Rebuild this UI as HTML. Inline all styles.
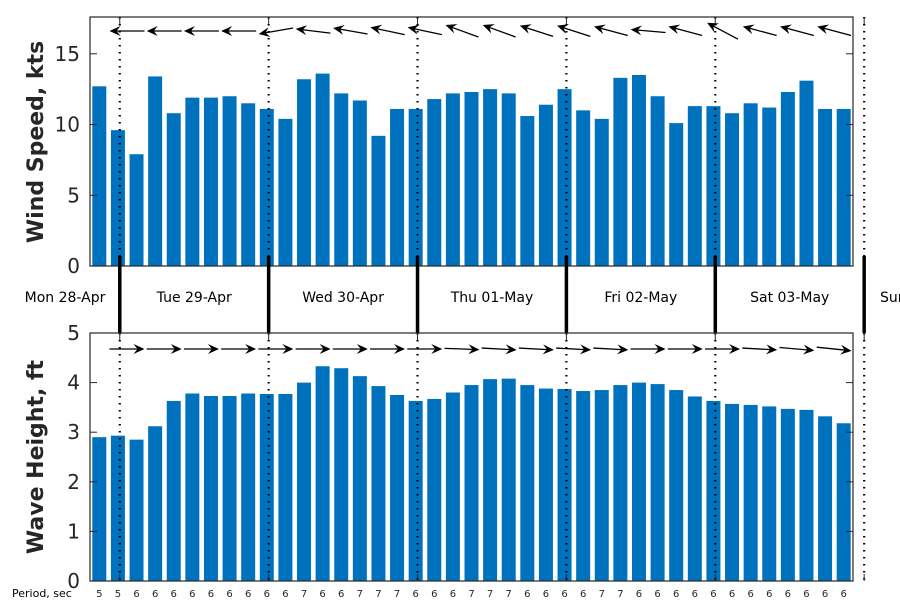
<!DOCTYPE html>
<html><head><meta charset="utf-8"><style>
body{margin:0;background:#fff}
svg{display:block;font-family:"DejaVu Sans","Liberation Sans",sans-serif}
</style></head><body>
<svg id="chart" width="900" height="600" viewBox="0 0 900 600" xmlns="http://www.w3.org/2000/svg">
<g id="topPanel"></g>
<g id="midPanel"></g>
<g id="botPanel"></g>
<text transform="translate(43,142) rotate(-90)" text-anchor="middle" font-size="22" font-weight="bold" fill="#262626">Wind Speed, kts</text>
<text transform="translate(43,457) rotate(-90)" text-anchor="middle" font-size="22" font-weight="bold" fill="#262626">Wave Height, ft</text>
<text x="12" y="597" font-size="11" fill="#000">Period, sec</text>
</svg>
<script>
const windSpeed=[12.7,9.6,7.9,13.4,10.8,11.9,11.9,12.0,11.5,11.1,10.4,13.2,13.6,12.2,11.7,9.2,11.1,11.1,11.8,12.2,12.3,12.5,12.2,10.6,11.4,12.5,11.0,10.4,13.3,13.5,12.0,10.1,11.3,11.3,10.8,11.5,11.2,12.3,13.1,11.1,11.1];
const waveHeight=[2.9,2.93,2.85,3.12,3.63,3.78,3.73,3.73,3.78,3.77,3.77,4.0,4.33,4.29,4.13,3.93,3.75,3.63,3.67,3.8,3.95,4.07,4.08,3.95,3.88,3.87,3.83,3.85,3.95,4.0,3.97,3.85,3.72,3.63,3.57,3.55,3.52,3.47,3.45,3.32,3.18];
const periods=[5,5,6,6,6,6,6,6,6,6,6,7,6,6,7,7,7,6,6,6,7,7,7,6,6,6,6,7,7,6,6,6,6,6,6,6,6,6,6,6,6];
const windDirAngle=[0,0,0,0,-10,7,10,12,12,20,20,18,18,15,5,15,28,15,15,15];
const waveDirAngle=[0,0,0,0,0,0,0,0,0,-2,-3,-3,-3,-3,0,0,0,-3,-5,-6];
const dayLabels=["Mon 28-Apr","Tue 29-Apr","Wed 30-Apr","Thu 01-May","Fri 02-May","Sat 03-May","Sun"];
const windTicks=[0,5,10,15];
const waveTicks=[0,1,2,3,4,5];

const NS="http://www.w3.org/2000/svg";
function mk(p,t,a){const e=document.createElementNS(NS,t);for(const k in a)e.setAttribute(k,a[k]);p.appendChild(e);return e;}
const X0=90,X1=853,N=windSpeed.length,step=(X1-X0)/N;
const xc=i=>X0+(i+0.5)*step;
const dayX=k=>X0+(1.6+8*k)*step;
const topG=document.getElementById('topPanel'),botG=document.getElementById('botPanel'),midG=document.getElementById('midPanel');
const wy=v=>266-v*(249/17.6);
const hy=v=>581-v*(248/5);

function panel(g,vals,yf,ticks,yTop,yBot,name){
  vals.forEach((v,i)=>{
    const r=mk(g,'rect',{x:xc(i)-7,y:yf(v),width:14,height:yBot-yf(v),fill:'#0072bd'});
    
    
  });
  for(let k=0;k<6;k++){
    const l=mk(g,'line',{x1:dayX(k),x2:dayX(k),y1:yTop,y2:yBot,stroke:'#000','stroke-width':2.2,'stroke-dasharray':'1.5 5.5'});
    
    
    mk(g,'line',{x1:dayX(k),x2:dayX(k),y1:yTop,y2:yTop+7,stroke:'#262626','stroke-width':1});
    mk(g,'line',{x1:dayX(k),x2:dayX(k),y1:yBot,y2:yBot-7,stroke:'#262626','stroke-width':1});
  }
  const f=mk(g,'rect',{x:X0,y:yTop,width:X1-X0,height:yBot-yTop,fill:'none',stroke:'#262626','stroke-width':1.2});
  
  
  ticks.forEach(t=>{
    const y=yf(t);
    mk(g,'line',{x1:X0,x2:X0+7,y1:y,y2:y,stroke:'#262626'});
    mk(g,'line',{x1:X1,x2:X1-7,y1:y,y2:y,stroke:'#262626'});
    const tx=mk(g,'text',{x:X0-10,y:y+7,'text-anchor':'end','font-size':20,fill:'#262626'});
    tx.textContent=t;
    
    
  });
}
panel(topG,windSpeed,wy,windTicks,17,266,'wind');
panel(botG,waveHeight,hy,waveTicks,333,581,'wave');

function arrows(g,angles,y,dir,name){
  angles.forEach((a,i)=>{
    const cx=127+i*2*step, L=35, rad=a*Math.PI/180;
    const dx=dir*Math.cos(rad)*L/2, dy=-Math.sin(rad)*L/2;
    const tx=cx+dx,ty=y+dy,sx=cx-dx,sy=y-dy;
    const ux=(tx-sx)/L,uy=(ty-sy)/L;
    const ar=mk(g,'g',{});
    
    
    mk(ar,'line',{x1:sx,y1:sy,x2:tx-ux*6,y2:ty-uy*6,stroke:'#000','stroke-width':1.3});
    const bx=tx-ux*11,by=ty-uy*11,px=-uy,py=ux;
    mk(ar,'polygon',{points:`${tx},${ty} ${bx+px*5},${by+py*5} ${tx-ux*7},${ty-uy*7} ${bx-px*5},${by-py*5}`,fill:'#000'});
  });
}
arrows(topG,windDirAngle,31,-1,'wind-direction');
arrows(botG,waveDirAngle,349,1,'wave-direction');

for(let k=0;k<6;k++){
  const l=mk(midG,'line',{x1:dayX(k),x2:dayX(k),y1:256,y2:333,stroke:'#000','stroke-width':3.5});
  
  
}
dayLabels.forEach((d,k)=>{
  const x=k===0?65:(k===6?880:(dayX(k-1)+dayX(k))/2);
  const t=mk(midG,'text',{x:x,y:302,'text-anchor':k===6?'start':'middle','font-size':14,fill:'#000'});
  t.textContent=d;
  
  
});
periods.forEach((p,i)=>{
  const t=mk(botG,'text',{x:xc(i),y:597,'text-anchor':'middle','font-size':10,fill:'#262626'});
  t.textContent=p;
  
  
});
</script>
</body></html>
